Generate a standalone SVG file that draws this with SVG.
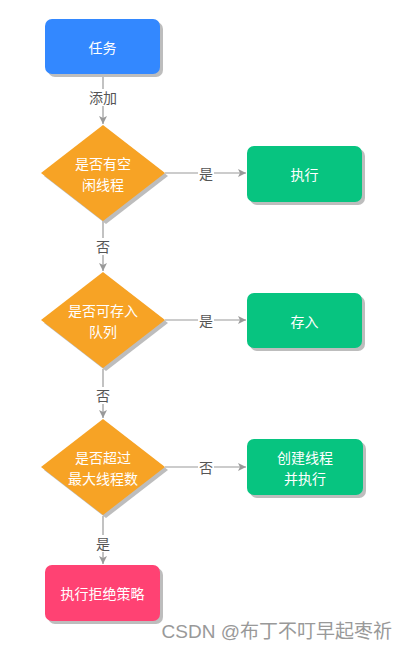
<svg xmlns="http://www.w3.org/2000/svg" width="407" height="650" viewBox="0 0 407 650">
<defs>
<marker id="ah" markerWidth="10" markerHeight="10" refX="9" refY="5" orient="auto" markerUnits="userSpaceOnUse">
<path d="M1,1 L9,5 L1,9 L3,5 Z" fill="#999"/>
</marker>
</defs>
<style>
.sh{fill:#bdbdbd}
.t{font-family:"Noto Sans CJK SC","Liberation Sans",sans-serif;font-size:14px;fill:#fff;text-anchor:middle;dominant-baseline:central}
.e{stroke:#999;stroke-width:1.2;fill:none}
.lb{font-family:"Noto Sans CJK SC","Liberation Sans",sans-serif;font-size:14px;fill:#555;text-anchor:middle;dominant-baseline:central}
.bg{fill:#fff}
</style>
<rect width="407" height="650" fill="#fff"/>
<g id="connectors">
<line class="e" x1="103" y1="74" x2="103" y2="124" marker-end="url(#ah)"/>
<rect class="bg" x="88" y="89" width="30" height="17"/>
<text class="lb" x="103" y="97">添加</text>
<line class="e" x1="165" y1="173" x2="246" y2="173" marker-end="url(#ah)"/>
<rect class="bg" x="198" y="165" width="16" height="17"/>
<text class="lb" x="206" y="173">是</text>
<line class="e" x1="103" y1="221" x2="103" y2="271" marker-end="url(#ah)"/>
<rect class="bg" x="95" y="238" width="16" height="17"/>
<text class="lb" x="103" y="246">否</text>
<line class="e" x1="165" y1="320" x2="246" y2="320" marker-end="url(#ah)"/>
<rect class="bg" x="198" y="312" width="16" height="17"/>
<text class="lb" x="206" y="320">是</text>
<line class="e" x1="103" y1="369" x2="103" y2="418" marker-end="url(#ah)"/>
<rect class="bg" x="95" y="387" width="16" height="17"/>
<text class="lb" x="103" y="395">否</text>
<line class="e" x1="165" y1="467" x2="246" y2="467" marker-end="url(#ah)"/>
<rect class="bg" x="198" y="459" width="16" height="17"/>
<text class="lb" x="206" y="467">否</text>
<line class="e" x1="103" y1="516" x2="103" y2="564" marker-end="url(#ah)"/>
<rect class="bg" x="95" y="535" width="16" height="17"/>
<text class="lb" x="103" y="543">是</text>
</g>
<g id="task">
<rect class="sh" x="48" y="22" width="115" height="55" rx="7"/>
<rect x="45" y="19" width="115" height="55" rx="7" fill="#3388ff"/>
<text class="t" x="102.5" y="46.5">任务</text>
</g>
<g id="d1">
<polygon class="sh" points="106,128 168,176 106,224 44,176"/>
<polygon points="103,125 165,173 103,221 41,173" fill="#f7a325"/>
<text class="t" x="103" y="163">是否有空</text>
<text class="t" x="103" y="184">闲线程</text>
</g>
<g id="exec">
<rect class="sh" x="250" y="149" width="115" height="56" rx="7"/>
<rect x="247" y="146" width="115" height="56" rx="7" fill="#07c480"/>
<text class="t" x="304.5" y="174">执行</text>
</g>
<g id="d2">
<polygon class="sh" points="106,275 168,323 106,371 44,323"/>
<polygon points="103,272 165,320 103,368 41,320" fill="#f7a325"/>
<text class="t" x="103" y="310">是否可存入</text>
<text class="t" x="103" y="331">队列</text>
</g>
<g id="store">
<rect class="sh" x="250" y="296" width="115" height="55" rx="7"/>
<rect x="247" y="293" width="115" height="55" rx="7" fill="#07c480"/>
<text class="t" x="304.5" y="320.5">存入</text>
</g>
<g id="d3">
<polygon class="sh" points="106,422 168,470 106,518 44,470"/>
<polygon points="103,419 165,467 103,515 41,467" fill="#f7a325"/>
<text class="t" x="103" y="457">是否超过</text>
<text class="t" x="103" y="478">最大线程数</text>
</g>
<g id="create">
<rect class="sh" x="250" y="442" width="116" height="56" rx="7"/>
<rect x="247" y="439" width="116" height="56" rx="7" fill="#07c480"/>
<text class="t" x="305" y="457">创建线程</text>
<text class="t" x="305" y="478">并执行</text>
</g>
<g id="reject">
<rect class="sh" x="48" y="568" width="115" height="56" rx="7"/>
<rect x="45" y="565" width="115" height="56" rx="7" fill="#ff4273"/>
<text class="t" x="102.5" y="593">执行拒绝策略</text>
</g>
<text x="392" y="638" font-family="'Liberation Sans','Noto Sans CJK SC',sans-serif" font-size="19" fill="#999" text-anchor="end">CSDN @布丁不叮早起枣祈</text>
</svg>
